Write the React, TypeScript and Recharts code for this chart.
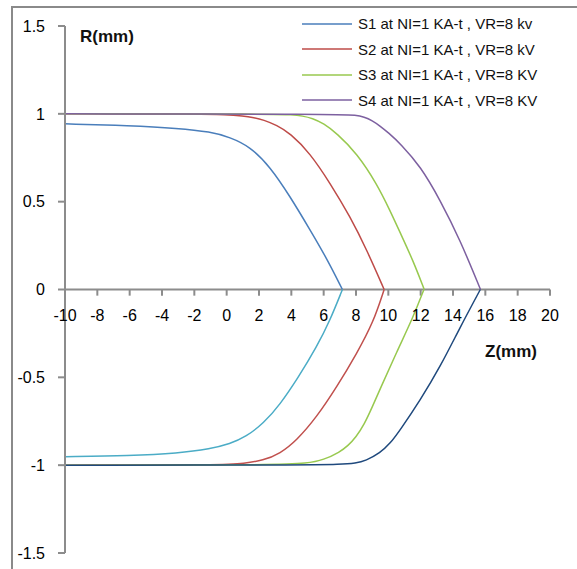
import React from 'react';
import { LineChart, Line, XAxis, YAxis, ReferenceLine, ReferenceDot, Legend } from 'recharts';

// axis ticks
const zTicks = [-10, -8, -6, -4, -2, 0, 2, 4, 6, 8, 10, 12, 14, 16, 18, 20];
const rTicks = [-1.5, -1, -0.5, 0, 0.5, 1, 1.5];

const seriesNames = [
  'S1 at NI=1 KA-t , VR=8 kv',
  'S2 at NI=1 KA-t , VR=8 kV',
  'S3 at NI=1 KA-t , VR=8 KV',
  'S4 at NI=1 KA-t , VR=8 KV',
];

// [z (mm), R (mm)] - upper branches
const s1Upper: [number, number][] = [
  [-10, 0.943], [-6, 0.933], [-3, 0.918], [-1, 0.898], [0.2, 0.867], [1.44, 0.814],
  [2.68, 0.7], [3.92, 0.53], [5.16, 0.339], [6.19, 0.177], [7.16, 0],
];
const s2Upper: [number, number][] = [
  [-10, 1], [-2, 0.999], [0, 0.996], [1, 0.988], [1.7, 0.978], [2.27, 0.966], [3.1, 0.935],
  [3.92, 0.89], [5.16, 0.776], [6.4, 0.605], [7.64, 0.414], [8.67, 0.225], [9.74, 0],
];
const s3Upper: [number, number][] = [
  [-10, 1], [3, 0.999], [4, 0.995], [4.7, 0.988], [5.3, 0.975], [6, 0.945], [6.8, 0.89],
  [8.05, 0.776], [9.3, 0.6], [10.1, 0.45], [10.75, 0.32], [11.55, 0.16], [12.22, 0],
];
const s4Upper: [number, number][] = [
  [-10, 1], [7, 0.998], [8, 0.992], [8.5, 0.982], [9, 0.962], [9.5, 0.93], [10, 0.893],
  [10.75, 0.83], [12, 0.7], [13.2, 0.51], [14.45, 0.28], [15.7, 0],
];

// lower branches
const s1Lower: [number, number][] = [
  [-10, -0.952], [-6, -0.946], [-3, -0.932], [-1, -0.907], [0.2, -0.879], [1.2, -0.838],
  [2.27, -0.763], [3.3, -0.655], [4.4, -0.505], [5.57, -0.327], [6.4, -0.174], [7.16, 0],
];
const s2Lower: [number, number][] = [
  [-10, -1], [0, -0.998], [1, -0.99], [2.27, -0.973], [3.3, -0.934], [4.33, -0.859],
  [5.57, -0.726], [6.81, -0.555], [8.05, -0.364], [9.08, -0.185], [9.74, 0],
];
const s3Lower: [number, number][] = [
  [-10, -1], [3, -0.999], [5, -0.99], [6, -0.97], [7, -0.925], [7.5, -0.89], [8, -0.84],
  [8.5, -0.77], [9, -0.67], [9.49, -0.567], [10.52, -0.355], [11.55, -0.155], [12.2, 0],
];
const s4Lower: [number, number][] = [
  [-10, -1], [5, -0.999], [7, -0.995], [8, -0.988], [8.6, -0.975], [9.49, -0.93], [10.11, -0.877],
  [10.73, -0.8], [11.97, -0.63], [13.21, -0.44], [14.45, -0.213], [15.69, 0],
];

const upperColors = ['#4a7ebb', '#be4b48', '#98c94f', '#7d60a0'];
const lowerColors = ['#4bacc6', '#c0504d', '#98c94f', '#1f497d'];

const toRows = (pts: [number, number][]) => pts.map(([z, r]) => ({ z, r }));
const upper = [s1Upper, s2Upper, s3Upper, s4Upper].map(toRows);
const lower = [s1Lower, s2Lower, s3Lower, s4Lower].map(toRows);

const font = '"Liberation Sans", Arial, sans-serif';
const axisGray = '#8c8c8c';
const tickLen = 0.035; // in R units, ~6px

function LegendBox(props: any) {
  const items = (props.payload || []).filter((p: any) => p.type !== 'none');
  return (
    <div style={{ fontFamily: font, fontSize: 15, color: '#111' }}>
      {items.map((p: any) => (
        <div key={p.value} style={{ display: 'flex', alignItems: 'center', height: 25.5 }}>
          <svg width={50} height={4} style={{ marginRight: 6 }}>
            <line x1={0} y1={2} x2={50} y2={2} stroke={p.color} strokeWidth={1.5} />
          </svg>
          <span style={{ whiteSpace: 'nowrap' }}>{p.value}</span>
        </div>
      ))}
    </div>
  );
}

export default function App() {
  return (
    <div style={{ position: 'fixed', left: 0, top: 0, width: 577, height: 569, overflow: 'hidden', background: '#fff' }}>
      <div
        style={{
          position: 'absolute', left: 11, top: 6, width: 600, height: 600,
          borderLeft: '2px solid #8a8a8a', borderTop: '2px solid #8a8a8a',
        }}
      />
      <div style={{ position: 'absolute', left: 0, top: 0 }}>
        <LineChart width={577} height={569} margin={{ top: 26, right: 27, bottom: 16, left: 20 }}>
          <XAxis type="number" dataKey="z" domain={[-10, 20]} ticks={zTicks} hide />
          <YAxis
            type="number"
            domain={[-1.5, 1.5]}
            ticks={rTicks}
            interval={0}
            width={45}
            tickSize={7}
            tickMargin={13}
            axisLine={{ stroke: axisGray, strokeWidth: 2 }}
            tickLine={{ stroke: axisGray, strokeWidth: 2 }}
            tick={{ fill: '#000', fontSize: 16, fontFamily: font }}
          />
          <ReferenceLine y={0} stroke={axisGray} strokeWidth={2} />
          {zTicks.map((t) => (
            <ReferenceLine
              key={'tk' + t}
              segment={[{ x: t, y: 0 }, { x: t, y: -tickLen }]}
              stroke={axisGray}
              strokeWidth={2}
            />
          ))}
          {zTicks.map((t) => (
            <ReferenceDot
              key={'lb' + t}
              x={t}
              y={0}
              r={0}
              fill="none"
              stroke="none"
              label={{ value: String(t), position: 'bottom', offset: 20, fill: '#000', fontSize: 16, fontFamily: font }}
            />
          ))}
          {upper.map((d, i) => (
            <Line
              key={'u' + i}
              data={d}
              dataKey="r"
              name={seriesNames[i]}
              type="basis"
              stroke={upperColors[i]}
              strokeWidth={1.5}
              dot={false}
              isAnimationActive={false}
            />
          ))}
          {lower.map((d, i) => (
            <Line
              key={'l' + i}
              data={d}
              dataKey="r"
              name={'lower ' + (i + 1)}
              type="basis"
              stroke={lowerColors[i]}
              strokeWidth={1.5}
              dot={false}
              legendType="none"
              isAnimationActive={false}
            />
          ))}
          <Legend
            layout="vertical"
            align="center"
            verticalAlign="middle"
            wrapperStyle={{ left: 302, top: 11, width: 270 }}
            content={LegendBox}
          />
        </LineChart>
      </div>
      <div style={{ position: 'absolute', left: 80, top: 27, fontFamily: font, fontWeight: 'bold', fontSize: 17, color: '#111' }}>
        R(mm)
      </div>
      <div style={{ position: 'absolute', left: 485, top: 342, fontFamily: font, fontWeight: 'bold', fontSize: 17, color: '#111' }}>
        Z(mm)
      </div>
    </div>
  );
}
